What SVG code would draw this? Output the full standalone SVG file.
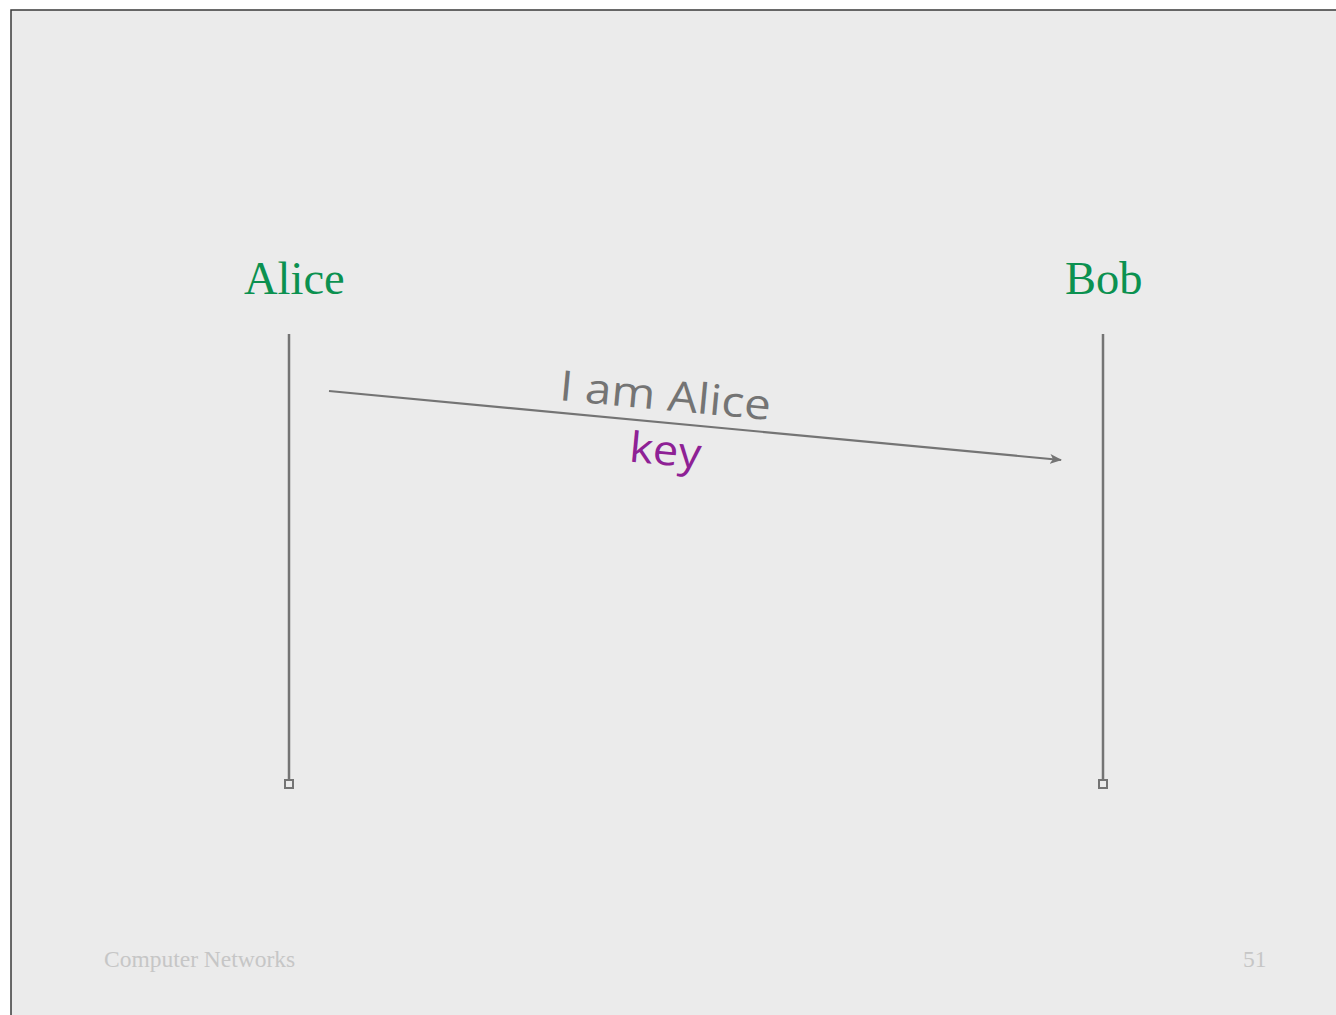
<svg xmlns="http://www.w3.org/2000/svg" width="1336" height="1015" viewBox="0 0 1336 1015">
<defs>
<style>
.life{stroke:#747474;stroke-width:2.5;fill:none}
.end{stroke:#747474;stroke-width:2;fill:none}
.name{font-family:"Liberation Serif",serif;font-size:46.5px;fill:#0b9150}
.foot{font-family:"Liberation Serif",serif;font-size:23.5px;fill:#c6c6c6}
.msg{font-family:"Comic Sans MS","Open Sans",sans-serif;font-size:42px}
</style>
<marker id="arr" markerWidth="12" markerHeight="10" refX="11" refY="5" orient="auto" markerUnits="userSpaceOnUse">
<path d="M0,0 L12,5 L0,10 L3,5 Z" fill="#747474"/>
</marker>
</defs>
<rect x="0" y="0" width="1336" height="1015" fill="#ffffff"/>
<rect x="11" y="10" width="1330" height="1010" fill="#ebebeb" stroke="#3a3a3a" stroke-width="1.5"/>
<g id="alice">
<text class="name" x="244" y="294">Alice</text>
<line class="life" x1="289" y1="334" x2="289" y2="780"/>
<rect class="end" x="285" y="780" width="8" height="8"/>
</g>
<g id="bob">
<text class="name" x="1065" y="294">Bob</text>
<line class="life" x1="1103" y1="334" x2="1103" y2="780"/>
<rect class="end" x="1099" y="780" width="8" height="8"/>
</g>
<g id="connectors">
<line x1="329" y1="391" x2="1061" y2="460" stroke="#747474" stroke-width="2.2" marker-end="url(#arr)"/>
<text class="msg" fill="#747474" transform="translate(664,410) rotate(5.4)" text-anchor="middle" textLength="212" lengthAdjust="spacingAndGlyphs">I am Alice</text>
<text class="msg" fill="#8e2195" transform="translate(664,465) rotate(5.4)" text-anchor="middle" textLength="72" lengthAdjust="spacingAndGlyphs">key</text>
</g>
<text class="foot" x="104" y="967">Computer Networks</text>
<text class="foot" x="1243" y="967">51</text>
</svg>
